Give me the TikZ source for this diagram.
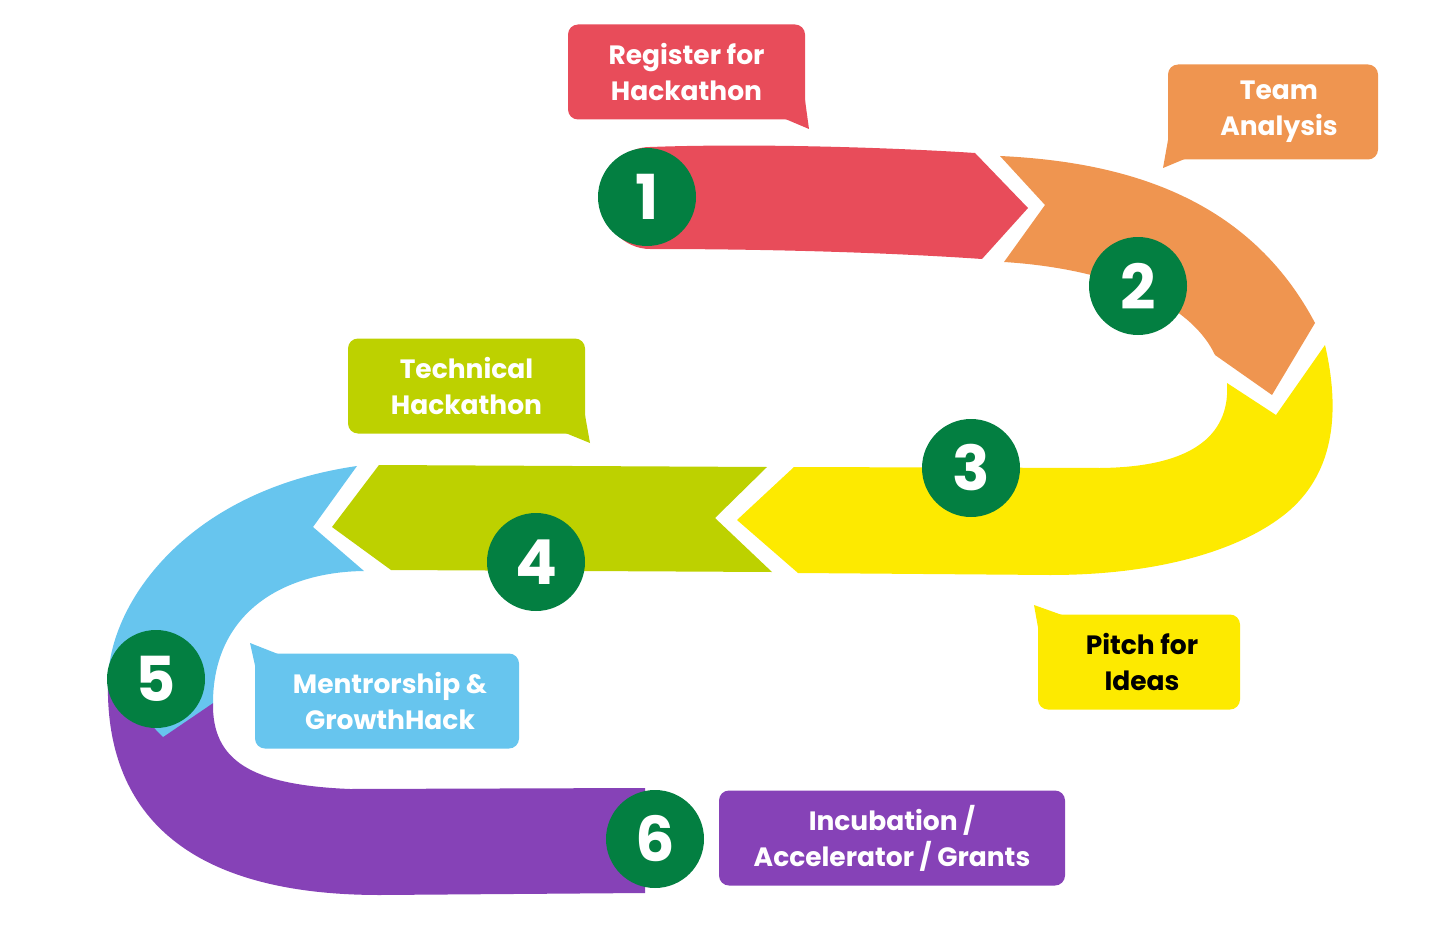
\documentclass[tikz,border=0pt]{standalone}
\usepackage{fontspec}
\setmainfont{Poppins}
\definecolor{stepred}{HTML}{E84C5A}
\definecolor{steporange}{HTML}{EF9550}
\definecolor{stepyellow}{HTML}{FDEA00}
\definecolor{steplime}{HTML}{BDD100}
\definecolor{stepblue}{HTML}{67C5EE}
\definecolor{steppurple}{HTML}{8642B7}
\definecolor{badgegreen}{HTML}{037F41}
\begin{document}
\begin{tikzpicture}[x=1pt,y=-1pt,
  callout/.style={rounded corners=10pt, inner sep=0pt, align=center,
    text=white, font=\bfseries\fontsize{26.5}{36}\selectfont},
  badge/.style={circle, fill=badgegreen, minimum size=98pt, inner sep=0pt,
    text=white, font=\bfseries\fontsize{62}{62}\selectfont}]
\useasboundingbox (0,0) rectangle (1437,944);

% ---- ribbon segments ----
% 6: purple, bottom sweep
\fill[steppurple] (108,680) .. controls (105,790) and (160,895) .. (380,895)
  -- (645,893) -- (645,788) -- (350,789)
  .. controls (250,785) and (212,760) .. (213,703) -- cycle;
% 5: blue, left bend ending in a tip
\fill[stepblue] (357,466) -- (313,527) -- (364,571)
  .. controls (280,572) and (213,615) .. (213,703) -- (163,737) -- (108,680)
  .. controls (110,600) and (190,490) .. cycle;
% 4: lime, pointing left
\fill[steplime] (767,467) -- (379,465) -- (332,527) -- (391,570)
  -- (772,572) -- (715,518) -- cycle;
% 3: yellow, right bend pointing left
\fill[stepyellow] (1325,345) .. controls (1340,410) and (1335,470) .. (1290,510)
  .. controls (1250,545) and (1170,575) .. (1050,575)
  -- (798,573) -- (737,520) -- (794,467) -- (1100,468)
  .. controls (1200,467) and (1230,430) .. (1227,383) -- (1276,415) -- cycle;
% 2: orange, upper bend
\fill[steporange] (1000,156) .. controls (1130,162) and (1250,200) .. (1315,323)
  -- (1272,395) -- (1215,355)
  .. controls (1188,298) and (1100,268) .. (1004,262) -- (1045,205) -- cycle;
% 1: red, pointing right
\fill[stepred] (650,147) .. controls (760,143) and (900,148) .. (975,153)
  -- (1028,208) -- (982,259) .. controls (880,252) and (760,249) .. (650,249)
  .. controls (624,249) and (602,226) .. (602,198)
  .. controls (602,170) and (624,147) .. cycle;

% ---- callouts ----
\node[callout, fill=stepred, minimum width=237pt, minimum height=95pt]
  (c1) at (686.5,72) {Register for\\Hackathon};
\fill[stepred] (783,118) -- (809,129) -- (805,100) -- cycle;

\node[callout, fill=steporange, minimum width=210pt, minimum height=95pt]
  (c2) at (1273,112) {};
\node[callout] (t2) at (1279,112) {Team\\Analysis};
\fill[steporange] (1187,158) -- (1163,168) -- (1168,140) -- cycle;

\node[callout, fill=stepyellow, minimum width=202pt, minimum height=95pt]
  (c3) at (1139,662) {};
\node[callout, text=black] (t3) at (1142,662) {Pitch for\\Ideas};
\fill[stepyellow] (1062,615) -- (1034,605) -- (1039,633) -- cycle;

\node[callout, fill=steplime, minimum width=237pt, minimum height=95pt]
  (c4) at (466.5,386) {Technical\\Hackathon};
\fill[steplime] (563,432) -- (590,443) -- (585,415) -- cycle;

\node[callout, fill=stepblue, minimum width=264pt, minimum height=95pt]
  (c5) at (387,701) {};
\node[callout] (t5) at (390,701) {Mentrorship \&\\GrowthHack};
\fill[stepblue] (278,654) -- (250,643) -- (256,670) -- cycle;

\node[callout, fill=steppurple, minimum width=346pt, minimum height=95pt]
  (c6) at (892,838) {Incubation /\\Accelerator / Grants};

% ---- numbered badges ----
\node[badge] (n1) at (647,197) {1};
\node[badge] (n2) at (1138,286) {2};
\node[badge] (n3) at (971,468) {3};
\node[badge] (n4) at (536,562) {4};
\node[badge] (n5) at (156,679) {5};
\node[badge] (n6) at (655,839) {6};
\end{tikzpicture}
\end{document}
